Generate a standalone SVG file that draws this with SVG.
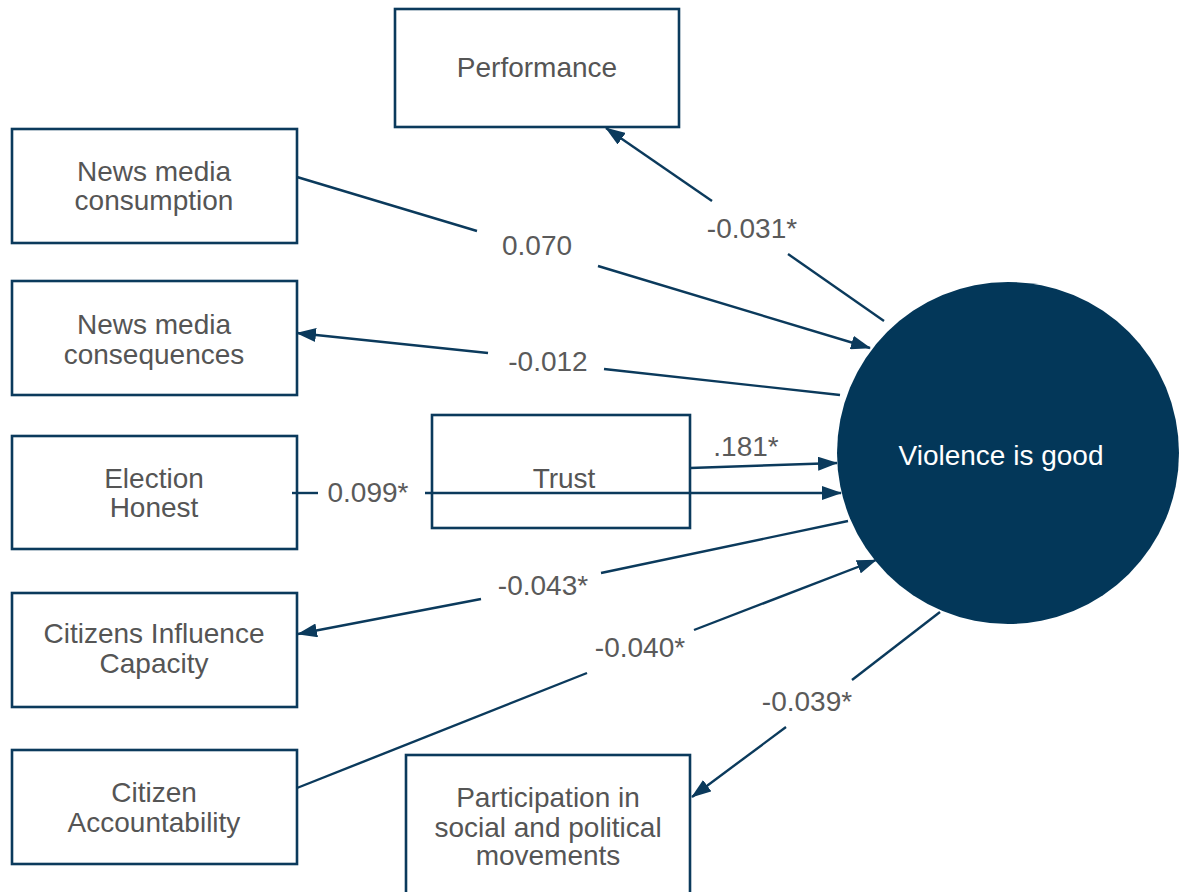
<svg xmlns="http://www.w3.org/2000/svg" width="1182" height="892" viewBox="0 0 1182 892">
  <defs>
    <marker id="arrow" markerUnits="userSpaceOnUse" markerWidth="20" markerHeight="14" refX="19" refY="7" orient="auto">
      <path d="M0,0 L20,7 L0,14 z" fill="#0b3a5c"/>
    </marker>
    <style>
      .box { fill: #ffffff; stroke: #0b3a5c; stroke-width: 2.6; }
      .lbl { font-family: "Liberation Sans", Arial, sans-serif; font-size: 28px; fill: #555555; text-anchor: middle; }
      .edge { stroke: #0b3a5c; stroke-width: 2.4; fill: none; }
      .end { marker-end: url(#arrow); }
      .coef { font-family: "Liberation Sans", Arial, sans-serif; font-size: 28px; fill: #5a5a5a; text-anchor: middle; }
    </style>
  </defs>
  <rect width="1182" height="892" fill="#ffffff"/>

  <g id="performance">
    <rect class="box" x="395" y="9" width="284" height="118"/>
    <text class="lbl" x="537" y="77">Performance</text>
  </g>

  <g id="news-consumption">
    <rect class="box" x="12" y="129" width="285" height="114"/>
    <text class="lbl" x="154" y="181">News media</text>
    <text class="lbl" x="154" y="210">consumption</text>
  </g>

  <g id="news-consequences">
    <rect class="box" x="12" y="281" width="285" height="114"/>
    <text class="lbl" x="154" y="334">News media</text>
    <text class="lbl" x="154" y="364">consequences</text>
  </g>

  <g id="election-honest">
    <rect class="box" x="12" y="436" width="285" height="113"/>
    <text class="lbl" x="154" y="488">Election</text>
    <text class="lbl" x="154" y="517">Honest</text>
  </g>

  <g id="trust">
    <rect class="box" x="432" y="415" width="258" height="113"/>
    <text class="lbl" x="564" y="488">Trust</text>
  </g>

  <g id="citizens-influence">
    <rect class="box" x="12" y="593" width="285" height="114"/>
    <text class="lbl" x="154" y="643">Citizens Influence</text>
    <text class="lbl" x="154" y="673">Capacity</text>
  </g>

  <g id="citizen-accountability">
    <rect class="box" x="12" y="750" width="285" height="114"/>
    <text class="lbl" x="154" y="802">Citizen</text>
    <text class="lbl" x="154" y="832">Accountability</text>
  </g>

  <g id="participation">
    <rect class="box" x="406" y="755" width="284" height="150"/>
    <text class="lbl" x="548" y="807">Participation in</text>
    <text class="lbl" x="548" y="837">social and political</text>
    <text class="lbl" x="548" y="865">movements</text>
  </g>

  <g id="violence-is-good">
    <circle cx="1008" cy="453" r="171" fill="#033759"/>
    <text class="lbl" x="1001" y="465" style="fill:#ffffff">Violence is good</text>
  </g>

  <!-- paths between the constructs, drawn on top so the Election path shows across Trust -->
  <g id="connectors">
    <!-- News media consumption -> Violence is good -->
    <line class="edge" x1="297" y1="177" x2="477" y2="231"/>
    <line class="edge end" x1="598" y1="266" x2="870" y2="348"/>
    <!-- Violence is good -> Performance -->
    <line class="edge" x1="884" y1="321" x2="788" y2="254"/>
    <line class="edge end" x1="712" y1="201" x2="606" y2="128"/>
    <!-- Violence is good -> News media consequences -->
    <line class="edge" x1="840" y1="395" x2="604" y2="369"/>
    <line class="edge end" x1="488" y1="353" x2="297" y2="333"/>
    <!-- Trust -> Violence is good -->
    <line class="edge end" x1="690" y1="468" x2="837" y2="463"/>
    <!-- Election Honest -> Violence is good -->
    <line class="edge" x1="292" y1="493" x2="318" y2="493"/>
    <line class="edge end" x1="425" y1="493" x2="841" y2="493"/>
    <!-- Violence is good -> Citizens Influence Capacity -->
    <line class="edge" x1="848" y1="521" x2="601" y2="573"/>
    <line class="edge end" x1="481" y1="599" x2="298" y2="634"/>
    <!-- Citizen Accountability -> Violence is good -->
    <line class="edge" x1="297" y1="788" x2="587" y2="673"/>
    <line class="edge end" x1="694" y1="630" x2="876" y2="560"/>
    <!-- Violence is good -> Participation -->
    <line class="edge" x1="940" y1="612" x2="852" y2="680"/>
    <line class="edge end" x1="786" y1="727" x2="692" y2="797"/>

    <text class="coef" x="537" y="255">0.070</text>
    <text class="coef" x="752" y="238">-0.031*</text>
    <text class="coef" x="548" y="371">-0.012</text>
    <text class="coef" x="746" y="456">.181*</text>
    <text class="coef" x="368" y="502">0.099*</text>
    <text class="coef" x="543" y="595">-0.043*</text>
    <text class="coef" x="640" y="657">-0.040*</text>
    <text class="coef" x="807" y="711">-0.039*</text>
  </g>
</svg>
